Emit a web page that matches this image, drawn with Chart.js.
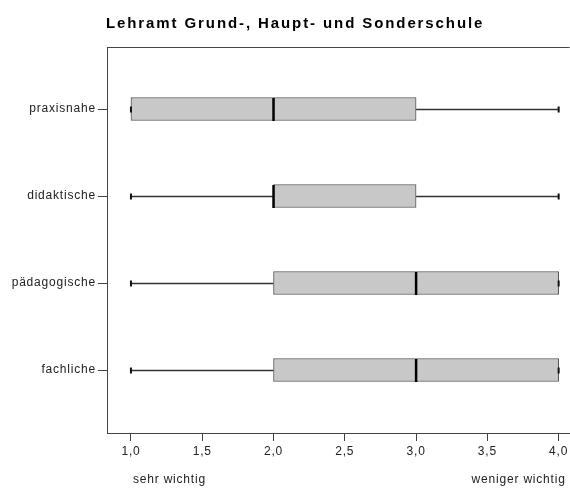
<!DOCTYPE html>
<html>
<head>
<meta charset="utf-8">
<script src="https://cdn.jsdelivr.net/npm/chart.js@4"></script>
<style>
  body { margin: 0; background: #fff; overflow: hidden; }
  #wrap { position: relative; width: 570px; height: 488px; }
  #title { position: absolute; left: 106px; top: 14px; font: bold 15px "Liberation Sans", Arial, sans-serif; letter-spacing: 1.9px; color: #000; white-space: nowrap; }
</style>
</head>
<body>
<div id="wrap">
  <div id="title">Lehramt Grund-, Haupt- und Sonderschule</div>
  <canvas id="box" width="570" height="488"></canvas>
</div>
<script>
window.onload = function() {

// Kategorien (von oben nach unten)
var categories = ['praxisnahe', 'didaktische', 'pädagogische', 'fachliche'];
// Boxplot-Kennwerte je Kategorie
var minVals    = [1, 1, 1, 1];
var q1Vals     = [1, 2, 2, 2];
var medianVals = [2, 2, 3, 3];
var q3Vals     = [3, 3, 4, 4];
var maxVals    = [4, 4, 4, 4];
var xTicks = [1.0, 1.5, 2.0, 2.5, 3.0, 3.5, 4.0];
var leftNote = 'sehr wichtig';
var rightNote = 'weniger wichtig';

var boxData = categories.map(function(c, i) {
  return { x: [q1Vals[i], q3Vals[i]], y: i + 1 };
});

var labelFont = { family: '"Liberation Sans", Arial, sans-serif', size: 12 };

// whiskers, caps, medians, frame and end notes
var boxPlugin = {
  id: 'boxExtras',
  beforeDraw: function(chart) {
    chart.ctx.letterSpacing = '0.8px';
  },
  beforeDatasetsDraw: function(chart) {
    var ctx = chart.ctx, xs = chart.scales.x, ys = chart.scales.y;
    ctx.save();
    ctx.strokeStyle = '#333';
    ctx.lineWidth = 1.5;
    for (var i = 0; i < categories.length; i++) {
      var y = Math.round(ys.getPixelForValue(i + 1)) + 0.5;
      ctx.beginPath();
      ctx.moveTo(xs.getPixelForValue(minVals[i]), y);
      ctx.lineTo(xs.getPixelForValue(q1Vals[i]), y);
      ctx.moveTo(xs.getPixelForValue(q3Vals[i]), y);
      ctx.lineTo(xs.getPixelForValue(maxVals[i]), y);
      ctx.stroke();
    }
    ctx.restore();
  },
  afterDatasetsDraw: function(chart) {
    var ctx = chart.ctx, xs = chart.scales.x, ys = chart.scales.y;
    ctx.save();
    for (var i = 0; i < categories.length; i++) {
      var y = Math.round(ys.getPixelForValue(i + 1)) + 0.5;
      ctx.strokeStyle = '#111';
      ctx.lineWidth = 2;
      [minVals[i], maxVals[i]].forEach(function(v) {
        var x = xs.getPixelForValue(v);
        ctx.beginPath();
        ctx.moveTo(x, y - 3);
        ctx.lineTo(x, y + 3);
        ctx.stroke();
      });
      var mx = xs.getPixelForValue(medianVals[i]);
      ctx.strokeStyle = '#000';
      ctx.lineWidth = 2.5;
      ctx.beginPath();
      ctx.moveTo(mx, y - 11.5);
      ctx.lineTo(mx, y + 11.5);
      ctx.stroke();
    }
    ctx.restore();
  },
  afterDraw: function(chart) {
    var ctx = chart.ctx, a = chart.chartArea, xs = chart.scales.x;
    ctx.save();
    ctx.strokeStyle = '#444';
    ctx.lineWidth = 1;
    ctx.beginPath();
    ctx.moveTo(a.left, a.top + 0.5);
    ctx.lineTo(a.right, a.top + 0.5);
    ctx.stroke();
    ctx.fillStyle = '#222';
    ctx.font = '12px "Liberation Sans", Arial, sans-serif';
    ctx.textBaseline = 'middle';
    ctx.textAlign = 'left';
    ctx.fillText(leftNote, xs.getPixelForValue(1) + 2, 480);
    ctx.textAlign = 'right';
    ctx.fillText(rightNote, xs.getPixelForValue(4) + 7, 480);
    ctx.restore();
  }
};

var ctx = document.getElementById('box');
var boxChart = new Chart(ctx, {
  type: 'bar',
  data: {
    datasets: [{
      data: boxData,
      backgroundColor: '#c8c8c8',
      borderColor: '#555',
      borderWidth: 1,
      borderSkipped: false,
      barThickness: 23
    }]
  },
  options: {
    indexAxis: 'y',
    responsive: false,
    animation: false,
    layout: { padding: { top: 47, right: 0, left: 0, bottom: 0 } },
    plugins: { legend: { display: false }, tooltip: { enabled: false } },
    scales: {
      x: {
        type: 'linear',
        min: 0.832,
        max: 4.077,
        afterFit: function(s) { s.height = 55; },
        afterBuildTicks: function(s) { s.ticks = xTicks.map(function(v) { return { value: v }; }); },
        ticks: {
          padding: 3,
          color: '#222',
          font: labelFont,
          callback: function(v) { return v.toFixed(1).replace('.', ','); }
        },
        grid: { drawOnChartArea: false, tickLength: 8, color: '#444' },
        border: { color: '#444' }
      },
      y: {
        type: 'linear',
        reverse: true,
        offset: false,
        min: 0.287,
        max: 4.724,
        afterFit: function(s) { s.width = 107; },
        afterBuildTicks: function(s) { s.ticks = categories.map(function(c, i) { return { value: i + 1 }; }); },
        ticks: {
          padding: 2,
          color: '#222',
          font: labelFont,
          callback: function(v) { return categories[v - 1] || ''; }
        },
        grid: { drawOnChartArea: false, offset: false, tickLength: 9, color: '#444' },
        border: { color: '#444' }
      }
    }
  },
  plugins: [boxPlugin]
});

}
</script>
</body>
</html>
